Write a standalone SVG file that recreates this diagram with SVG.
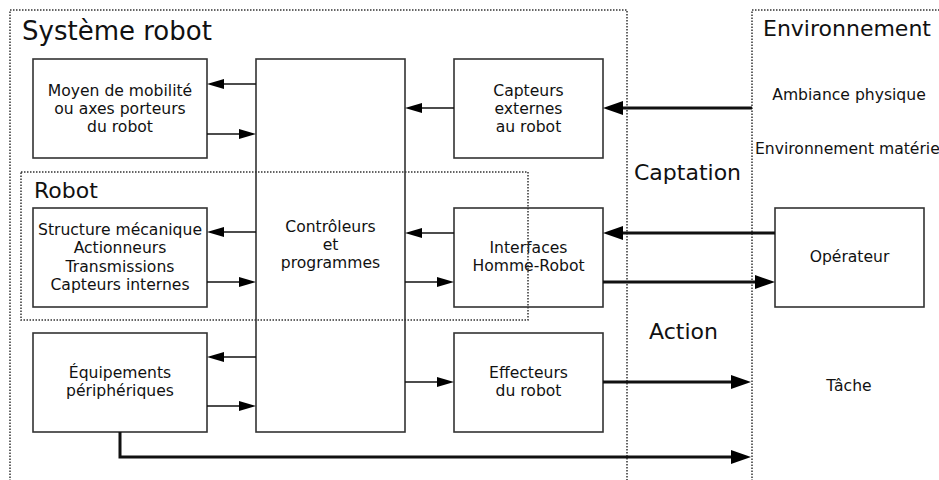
<svg xmlns="http://www.w3.org/2000/svg" width="939" height="480" viewBox="0 0 939 480">
<style>
.box{fill:#fff;stroke:#333;stroke-width:1.6}
.dot{fill:none;stroke:#333;stroke-width:1.5;stroke-dasharray:1.5 1.5}
.t{font-family:"DejaVu Sans",sans-serif;font-size:15.6px;fill:#111;text-anchor:middle}
.big{font-family:"DejaVu Sans",sans-serif;font-size:22px;fill:#111}
.thin{stroke:#111;stroke-width:1.6;fill:none;marker-end:url(#a)}
.thick{stroke:#111;stroke-width:3;fill:none;marker-end:url(#b)}
</style>
<defs>
<marker id="a" markerUnits="userSpaceOnUse" markerWidth="17" markerHeight="10" refX="12" refY="5" orient="auto" viewBox="0 0 17 10">
<path d="M0,0 L17,5 L0,10 z" fill="#000"/>
</marker>
<marker id="b" markerUnits="userSpaceOnUse" markerWidth="20" markerHeight="14" refX="14" refY="7" orient="auto" viewBox="0 0 20 14">
<path d="M0,0 L20,7 L0,14 z" fill="#000"/>
</marker>
</defs>
<rect width="939" height="480" fill="#fff"/>

<g id="systeme-robot">
<path class="dot" d="M10,490 L10,10 L627,10 L627,490"/>
<text class="big" x="22" y="40" style="font-size:26px">Système robot</text>
</g>
<g id="environnement">
<path class="dot" d="M752,490 L752,10 L950,10"/>
<text class="big" x="763" y="36">Environnement</text>
<text class="t" x="849" y="100">Ambiance physique</text>
<text class="t" x="755" y="154" style="text-anchor:start">Environnement matériel</text>
</g>
<g id="captation"><text class="big" x="634" y="180">Captation</text></g>
<g id="action"><text class="big" x="649" y="339">Action</text></g>

<g id="moyen">
<rect class="box" x="33" y="59" width="174" height="99"/>
<text class="t" x="120" y="96">Moyen de mobilité</text>
<text class="t" x="120" y="114">ou axes porteurs</text>
<text class="t" x="120" y="132">du robot</text>
</g>
<g id="controleurs">
<rect class="box" x="256" y="59" width="149" height="373"/>
<text class="t" x="330.5" y="232">Contrôleurs</text>
<text class="t" x="330.5" y="250">et</text>
<text class="t" x="330.5" y="268">programmes</text>
</g>
<g id="capteurs">
<rect class="box" x="454" y="59" width="149" height="99"/>
<text class="t" x="528.5" y="96">Capteurs</text>
<text class="t" x="528.5" y="114">externes</text>
<text class="t" x="528.5" y="132">au robot</text>
</g>
<g id="structure">
<rect class="box" x="33" y="208" width="174" height="99"/>
<text class="t" x="120" y="235">Structure mécanique</text>
<text class="t" x="120" y="253">Actionneurs</text>
<text class="t" x="120" y="271.5">Transmissions</text>
<text class="t" x="120" y="290">Capteurs internes</text>
</g>
<g id="interfaces">
<rect class="box" x="454" y="208" width="149" height="99"/>
<text class="t" x="528.5" y="253">Interfaces</text>
<text class="t" x="528.5" y="271">Homme-Robot</text>
</g>
<g id="operateur">
<rect class="box" x="775" y="208" width="149" height="99"/>
<text class="t" x="849.5" y="262">Opérateur</text>
</g>
<g id="equipements">
<rect class="box" x="33" y="333" width="174" height="99"/>
<text class="t" x="120" y="378">Équipements</text>
<text class="t" x="120" y="396">périphériques</text>
</g>
<g id="effecteurs">
<rect class="box" x="454" y="333" width="149" height="99"/>
<text class="t" x="528.5" y="378">Effecteurs</text>
<text class="t" x="528.5" y="396">du robot</text>
</g>
<g id="tache"><text class="t" x="849" y="391">Tâche</text></g>

<g id="robot">
<rect class="dot" x="21" y="172" width="507" height="148"/>
<text class="big" x="34" y="198">Robot</text>
</g>

<g id="connectors">
<path class="thin" d="M256,84 L212,84"/>
<path class="thin" d="M207,134 L251,134"/>
<path class="thin" d="M454,108 L410,108"/>
<path class="thin" d="M256,232 L212,232"/>
<path class="thin" d="M207,282 L251,282"/>
<path class="thin" d="M454,233 L410,233"/>
<path class="thin" d="M405,282 L449,282"/>
<path class="thin" d="M256,357 L212,357"/>
<path class="thin" d="M207,406 L251,406"/>
<path class="thin" d="M405,382 L449,382"/>
<path class="thick" d="M752,108 L609,108"/>
<path class="thick" d="M775,233 L609,233"/>
<path class="thick" d="M603,282 L769,282"/>
<path class="thick" d="M603,382 L745,382"/>
<path class="thick" d="M120,432 L120,457 L745,457"/>
</g>
</svg>
